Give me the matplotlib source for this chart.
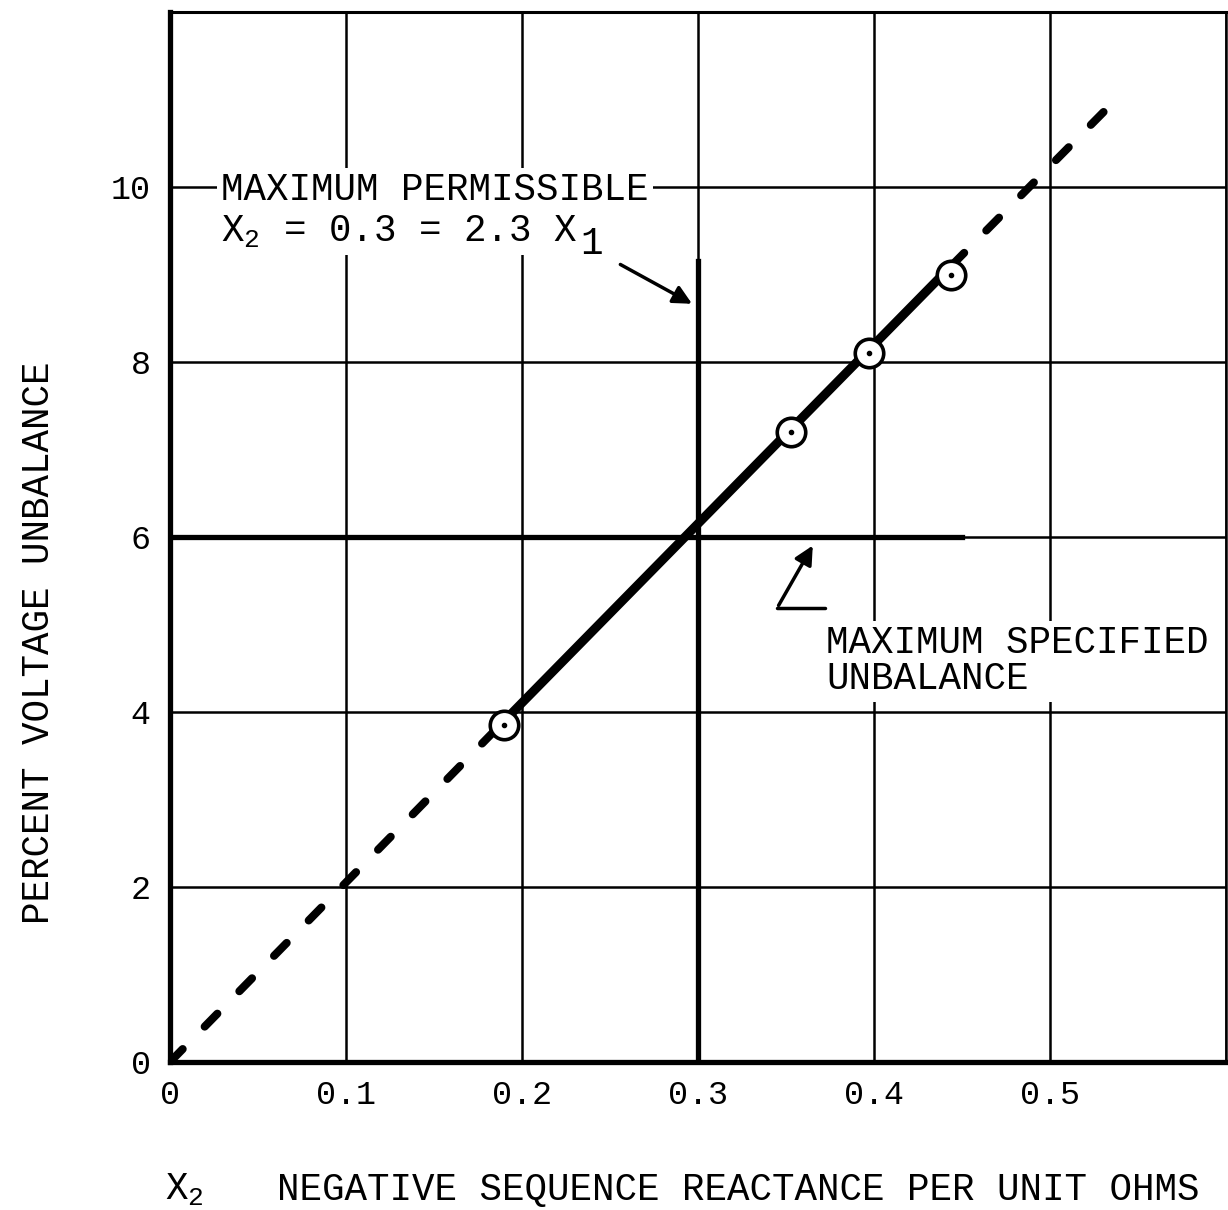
import matplotlib

matplotlib.use("Agg")
import matplotlib.pyplot as plt

MONO = ["Liberation Mono", "DejaVu Sans Mono"]
W, H = 1228, 1210

plt.rcParams["mathtext.fontset"] = "custom"
plt.rcParams["mathtext.rm"] = "Liberation Mono"
plt.rcParams["mathtext.it"] = "Liberation Mono"
plt.rcParams["mathtext.default"] = "rm"

x_ticks = [0.0, 0.1, 0.2, 0.3, 0.4, 0.5, 0.6]
x_tick_labels = ["0", "0.1", "0.2", "0.3", "0.4", "0.5", ""]
y_ticks = [0, 2, 4, 6, 8, 10, 12]
y_tick_labels = ["0", "2", "4", "6", "8", "10", ""]

# test points
test_x2 = [0.19, 0.353, 0.397, 0.444]
test_unbalance = [3.85, 7.2, 8.1, 9.0]

# straight line through the tests, dashed where extrapolated
fit_solid_x = [0.19, 0.444]
fit_solid_y = [3.9, 9.1]
fit_low_x = [0.0, 0.19]
fit_low_y = [0.0, 3.9]
fit_high_x = [0.444, 0.535]
fit_high_y = [9.1, 10.95]

# limits
max_x2 = 0.3
max_x2_top = 9.15
max_unbalance = 6.0
max_unbalance_end = 0.45


def main() -> None:
    fig = plt.figure(figsize=(W / 100, H / 100), dpi=100)
    ax = fig.add_axes([170 / W, 148 / H, 1056 / W, 1050 / H])
    ax.set_xlim(0, 0.6)
    ax.set_ylim(0, 12)

    ax.set_xticks(x_ticks)
    ax.set_xticklabels(x_tick_labels, family=MONO, fontsize=24)
    ax.set_yticks(y_ticks)
    ax.set_yticklabels(y_tick_labels, family=MONO, fontsize=24)
    ax.tick_params(axis="x", length=0, pad=13)
    ax.tick_params(axis="y", length=0, pad=14)
    ax.grid(True, color="black", lw=1.8)
    ax.set_axisbelow(True)

    for side, lw in (("left", 3.8), ("bottom", 3.8), ("top", 2.2), ("right", 1.8)):
        ax.spines[side].set_linewidth(lw)
        ax.spines[side].set_color("black")

    # limit lines
    ax.plot([max_x2, max_x2], [0, max_x2_top], color="black", lw=3.8, zorder=2)
    ax.plot([0, max_unbalance_end], [max_unbalance, max_unbalance], color="black", lw=3.8, zorder=2)

    # characteristic
    ax.plot(fit_solid_x, fit_solid_y, color="black", lw=6.5, solid_capstyle="butt", zorder=3)
    for xs, ys in ((fit_low_x, fit_low_y), (fit_high_x, fit_high_y)):
        ax.plot(xs, ys, color="black", lw=5.8, dashes=(2.25, 3.9), dash_capstyle="round", zorder=3)
    ax.plot(test_x2, test_unbalance, "o", ms=20.5, mfc="white", mec="black", mew=2.6, zorder=5)
    ax.plot(test_x2, test_unbalance, "o", ms=3, color="black", zorder=6)

    box = dict(boxstyle="square,pad=0.12", fc="white", ec="none")
    ax.text(0.029, 9.85, "MAXIMUM PERMISSIBLE", family=MONO, fontsize=27,
            ha="left", va="baseline", bbox=box, zorder=4)
    ax.text(0.029, 9.37, r"X$_{2}$ = 0.3 = 2.3 X", family=MONO, fontsize=27,
            ha="left", va="baseline", bbox=box, zorder=4)
    ax.text(0.233, 9.23, "1", family=MONO, fontsize=27,
            ha="left", va="baseline", bbox=box, zorder=4)
    ax.annotate("", xy=(0.298, 8.65), xytext=(0.2545, 9.13),
                arrowprops=dict(arrowstyle="-|>", color="black", lw=2.5, mutation_scale=28))

    ax.text(0.373, 4.26, "MAXIMUM SPECIFIED\nUNBALANCE", family=MONO, fontsize=27,
            ha="left", va="baseline", linespacing=1.0, bbox=box, zorder=4)
    ax.plot([0.372, 0.345], [5.19, 5.19], color="black", lw=2.5, solid_capstyle="round")
    ax.annotate("", xy=(0.366, 5.93), xytext=(0.345, 5.19),
                arrowprops=dict(arrowstyle="-|>", color="black", lw=2.5, mutation_scale=28))

    fig.text(39 / W, 1 - 643 / H, "PERCENT VOLTAGE UNBALANCE", family=MONO, fontsize=27,
             rotation=90, ha="center", va="center")
    fig.text(165 / W, 1 - 1200 / H, r"X$_{2}$", family=MONO, fontsize=27, ha="left", va="baseline")
    fig.text(277 / W, 1 - 1200 / H, "NEGATIVE SEQUENCE REACTANCE PER UNIT OHMS", family=MONO,
             fontsize=27, ha="left", va="baseline")

    fig.savefig("out.png", dpi=100, facecolor="white")
    plt.close(fig)


if __name__ == "__main__":
    main()
